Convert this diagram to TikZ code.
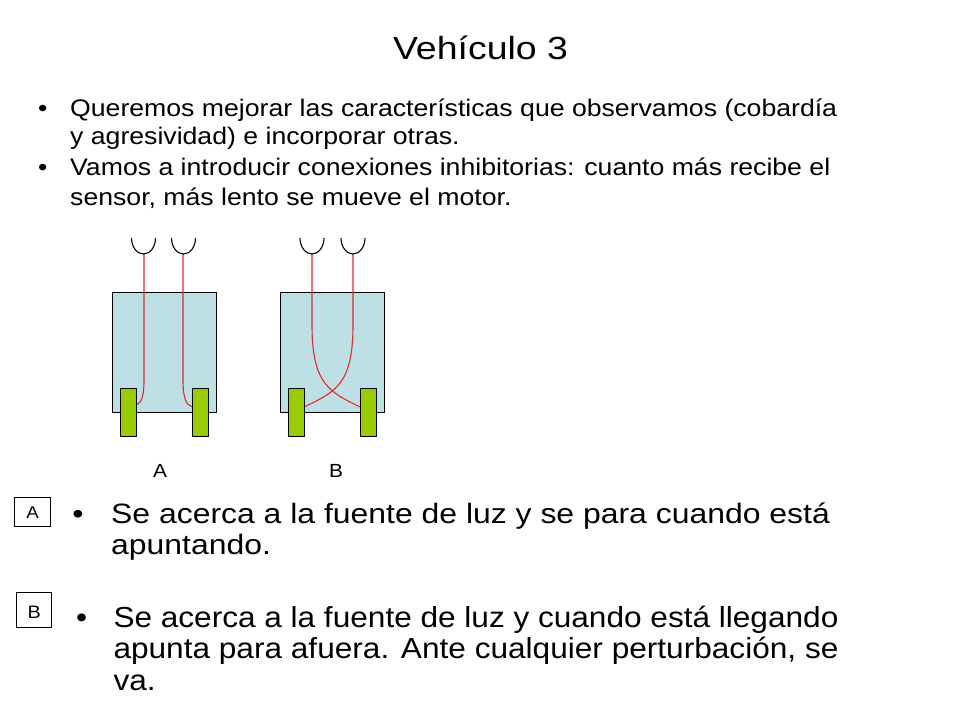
\documentclass[tikz,border=0pt]{standalone}
\usepackage{fontspec}
\setmainfont{Liberation Sans}
\newfontfamily\ftitle[FakeStretch=1.17]{Liberation Sans}
\newfontfamily\fbody[FakeStretch=1.11]{Liberation Sans}
\newfontfamily\fA[FakeStretch=1.14]{Liberation Sans}
\newfontfamily\fB[FakeStretch=1.09]{Liberation Sans}
\newfontfamily\flab[FakeStretch=1.1]{Liberation Sans}
\definecolor{bodyblue}{RGB}{189,224,229}
\definecolor{wheelgreen}{RGB}{153,204,0}
\definecolor{wirered}{RGB}{230,40,40}
\begin{document}
\begin{tikzpicture}[x=1pt,y=-1pt,
  txt/.style={inner sep=0pt, anchor=base west},
  bul/.style={inner sep=0pt, anchor=base},
  carbody/.style={draw=black, line width=0.9pt, fill=bodyblue},
  wheel/.style={draw=black, line width=0.9pt, fill=wheelgreen},
  wire/.style={draw=wirered, line width=1.1pt},
  sensor/.style={draw=black, line width=1.1pt},
  tagbox/.style={draw=black, line width=0.8pt}]
\useasboundingbox[fill=white] (0,0) rectangle (960,720);

% title
\node[bul] (title) at (480.5,59.8) {\ftitle\fontsize{32}{36}\selectfont Vehículo 3};

% top bullets
\node[bul] (b1) at (42.7,116.5) {\fbody\fontsize{24}{28}\selectfont •};
\node[txt] (t1) at (70,116.5) {\fbody\fontsize{24}{28}\selectfont Queremos mejorar las características que observamos (cobardía};
\node[txt] (t2) at (70,144) {\fbody\fontsize{24}{28}\selectfont y agresividad) e incorporar otras.};
\node[bul] (b2) at (42.7,175.5) {\fbody\fontsize{24}{28}\selectfont •};
\node[txt] (t3) at (70,175.5) {\fbody\fontsize{24}{28}\selectfont Vamos a introducir conexiones inhibitorias: cuanto más recibe el};
\node[txt] (t4) at (70,205) {\fbody\fontsize{24}{28}\selectfont sensor, más lento se mueve el motor.};

% vehicle A
\draw[carbody] (112,292) rectangle (216,412.5);
\draw[wire] (144,254) -- (144,380) .. controls (144,398) and (141,403) .. (136,405);
\draw[wire] (183,254) -- (183,380) .. controls (183,398) and (186,405) .. (192.5,407);
\draw[wheel] (120.5,388) rectangle (136,436);
\draw[wheel] (192.5,388) rectangle (208,436);
\draw[sensor] (131.5,238) arc[start angle=180,end angle=0,x radius=12,y radius=16];
\draw[sensor] (171.5,238) arc[start angle=180,end angle=0,x radius=12,y radius=16];

% vehicle B
\draw[carbody] (280,292) rectangle (384,412.5);
\draw[wire] (312,254) -- (312,325) .. controls (312,385) and (330,392) .. (360,407);
\draw[wire] (353,254) -- (353,325) .. controls (353,385) and (335,392) .. (304,407);
\draw[wheel] (288,388) rectangle (304,436);
\draw[wheel] (360,388) rectangle (376,436);
\draw[sensor] (300,238) arc[start angle=180,end angle=0,x radius=12,y radius=16];
\draw[sensor] (341,238) arc[start angle=180,end angle=0,x radius=12,y radius=16];

% labels
\node[bul] (la) at (160,477) {\flab\fontsize{19}{22}\selectfont A};
\node[bul] (lb) at (336,477) {\flab\fontsize{19}{22}\selectfont B};

% tag boxes
\draw[tagbox] (14.3,497.7) rectangle (50.7,526.7);
\node[bul] (ta) at (32.5,518.5) {\flab\fontsize{17}{20}\selectfont A};
\draw[tagbox] (16.7,592.3) rectangle (51.7,627);
\node[bul] (tb) at (34.2,618.3) {\flab\fontsize{18}{20}\selectfont B};

% bottom text A
\node[bul] (ba) at (78,523) {\fA\fontsize{28}{32}\selectfont •};
\node[txt] (a1) at (111,523) {\fA\fontsize{28}{32}\selectfont Se acerca a la fuente de luz y se para cuando está};
\node[txt] (a2) at (111,554) {\fA\fontsize{28}{32}\selectfont apuntando.};

% bottom text B
\node[bul] (bb) at (81.7,627.3) {\fB\fontsize{29}{32}\selectfont •};
\node[txt] (c1) at (113.3,627.3) {\fB\fontsize{29}{32}\selectfont\makebox[725pt][s]{Se acerca a la fuente de luz y cuando está llegando}};
\node[txt] (c2) at (113.3,658.5) {\fB\fontsize{29}{32}\selectfont\makebox[725pt][s]{apunta para afuera. Ante cualquier perturbación, se}};
\node[txt] (c3) at (113.3,690) {\fB\fontsize{29}{32}\selectfont va.};
\end{tikzpicture}
\end{document}
